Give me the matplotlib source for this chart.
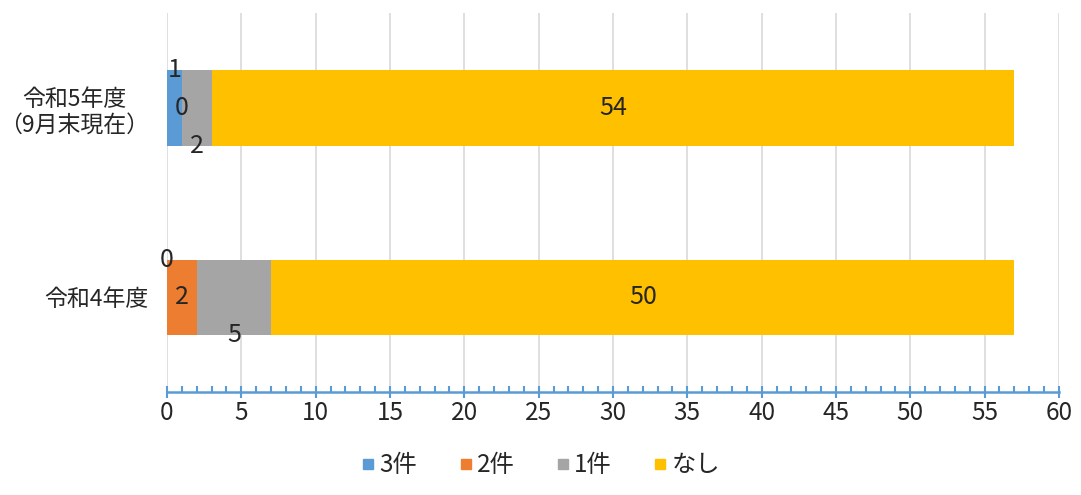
import numpy as np
import matplotlib.pyplot as plt
from matplotlib.lines import Line2D

plt.rcParams['font.family'] = ['Noto Sans CJK JP', 'DejaVu Sans']

# データ
categories = ['令和4年度', '令和5年度\n（9月末現在）']
series_names = ['3件', '2件', '1件', 'なし']
values = {
    '3件': [0, 1],
    '2件': [2, 0],
    '1件': [5, 2],
    'なし': [50, 54],
}
colors = ['#5B9BD5', '#ED7D31', '#A5A5A5', '#FFC000']
xticks = list(range(0, 61, 5))

def main():
    fig = plt.figure(figsize=(10.81, 4.95), dpi=100)
    ax = fig.add_axes([0.1545, 0.208, 0.8251, 0.765])

    y = np.arange(len(categories))
    h = 0.4
    left = np.zeros(len(categories))
    # ラベルの縦位置（Excel風にずらす）
    label_dy = {'3件': h / 2, '2件': 0, '1件': -h / 2, 'なし': 0}
    for name, c in zip(series_names, colors):
        v = np.array(values[name], dtype=float)
        ax.barh(y, v, height=h, left=left, color=c, zorder=3)
        for i in range(len(y)):
            ax.text(left[i] + v[i] / 2, y[i] + label_dy[name], str(int(v[i])),
                    ha='center', va='center', fontsize=18, color='#262626', zorder=4)
        left += v

    ax.set_xlim(0, 60)
    ax.set_ylim(-0.5, 1.5)
    ax.set_yticks(y)
    ax.set_yticklabels(categories, fontsize=16.5, color='#262626', linespacing=1.2,
                       multialignment='center')
    ax.set_xticks(xticks)
    ax.set_xticks(range(0, 61), minor=True)
    ax.tick_params(axis='x', which='major', direction='inout', length=9, width=1.5,
                   color='#5B9BD5', labelsize=17.5, labelcolor='#262626', pad=1)
    ax.tick_params(axis='x', which='minor', direction='in', length=4, width=1.5, color='#5B9BD5')
    ax.tick_params(axis='y', length=0, pad=13)

    for s in ['top', 'right', 'left']:
        ax.spines[s].set_visible(False)
    ax.spines['bottom'].set_color('#5B9BD5')
    ax.spines['bottom'].set_linewidth(1.8)
    ax.xaxis.grid(True, which='major', color='#D9D9D9', linewidth=1.2, zorder=0)
    ax.set_axisbelow(True)

    handles = [Line2D([], [], marker='s', linestyle='none', markersize=7, color=c)
               for c in colors]
    fig.legend(handles, series_names, loc='center', bbox_to_anchor=(0.5, 0.06), ncol=4,
               frameon=False, fontsize=17.5, handlelength=0.6, handletextpad=0.15,
               columnspacing=1.7, labelcolor='#262626')

    fig.savefig('out.png', dpi=100)

if __name__ == "__main__":
    main()
